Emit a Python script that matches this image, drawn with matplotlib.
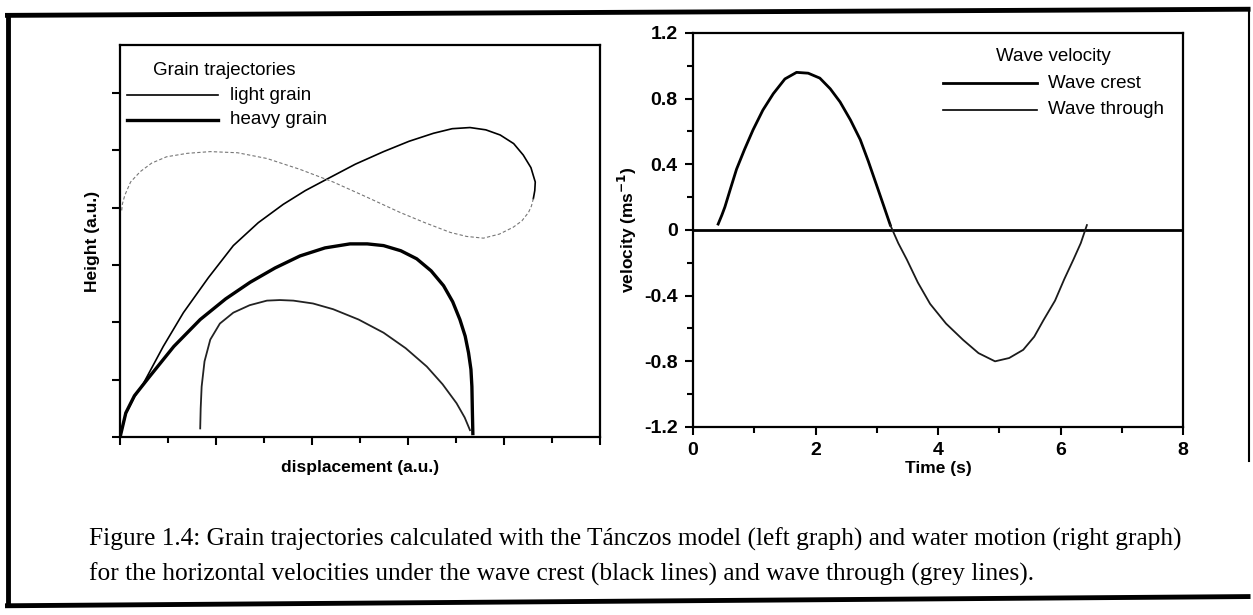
import numpy as np
import matplotlib
matplotlib.use('Agg')
import matplotlib.pyplot as plt
from matplotlib.lines import Line2D
from matplotlib.ticker import MultipleLocator, NullFormatter

plt.rcParams['font.family'] = ['Liberation Sans', 'DejaVu Sans']

# grain trajectories (arbitrary units), crest part then trough part
light_crest_x = [0.01, 0.12, 0.30, 0.49, 0.90, 1.32, 1.84, 2.36, 2.88, 3.40, 3.86, 4.31, 4.90,
                 5.49, 6.02, 6.53, 6.92, 7.29, 7.62, 7.92, 8.20, 8.40, 8.56, 8.65, 8.64, 8.61]
light_crest_y = [0.03, 0.40, 0.70, 0.94, 1.58, 2.17, 2.78, 3.34, 3.74, 4.06, 4.30, 4.50, 4.76,
                 4.98, 5.16, 5.30, 5.38, 5.40, 5.36, 5.27, 5.12, 4.92, 4.70, 4.45, 4.30, 4.16]
light_trough_x = [8.61, 8.57, 8.51, 8.37, 8.19, 7.90, 7.57, 7.22, 6.88, 6.35, 5.83, 5.13, 4.44,
                  3.75, 3.06, 2.45, 1.88, 1.40, 0.97, 0.66, 0.42, 0.22, 0.10, 0.05, 0.03]
light_trough_y = [4.16, 4.03, 3.92, 3.77, 3.66, 3.54, 3.47, 3.50, 3.57, 3.74, 3.92, 4.19, 4.45,
                  4.67, 4.86, 4.96, 4.98, 4.95, 4.89, 4.78, 4.63, 4.45, 4.22, 4.07, 3.92]

heavy_crest_x = [0.01, 0.12, 0.30, 0.62, 1.12, 1.67, 2.20, 2.71, 3.23, 3.75, 4.27, 4.79, 5.15,
                 5.49, 5.85, 6.18, 6.48, 6.74, 6.93, 7.08, 7.19, 7.26, 7.31, 7.33, 7.34, 7.35]
heavy_crest_y = [0.03, 0.42, 0.72, 1.06, 1.58, 2.05, 2.41, 2.70, 2.95, 3.16, 3.30, 3.37, 3.37,
                 3.34, 3.25, 3.11, 2.90, 2.64, 2.36, 2.05, 1.76, 1.47, 1.18, 0.88, 0.45, 0.06]
heavy_trough_x = [7.29, 7.18, 7.01, 6.72, 6.39, 5.95, 5.49, 4.97, 4.44, 4.02, 3.61, 3.33, 3.06,
                  2.70, 2.36, 2.08, 1.88, 1.76, 1.70, 1.68, 1.67]
heavy_trough_y = [0.12, 0.34, 0.59, 0.92, 1.23, 1.55, 1.82, 2.05, 2.23, 2.33, 2.38, 2.39, 2.38,
                  2.30, 2.17, 1.98, 1.70, 1.32, 0.88, 0.50, 0.15]

# horizontal water velocity (m/s) against time (s)
t_crest = [0.41, 0.47, 0.52, 0.61, 0.71, 0.84, 0.98, 1.14, 1.31, 1.50, 1.69, 1.88, 2.07,
           2.24, 2.40, 2.57, 2.73, 2.86, 2.99, 3.11, 3.22]
v_crest = [0.036, 0.09, 0.14, 0.25, 0.37, 0.49, 0.61, 0.73, 0.83, 0.92, 0.96, 0.955, 0.925,
           0.86, 0.78, 0.67, 0.55, 0.42, 0.28, 0.15, 0.03]
t_trough = [3.22, 3.35, 3.49, 3.67, 3.87, 4.13, 4.41, 4.66, 4.93, 5.16, 5.39, 5.57, 5.72,
            5.91, 6.06, 6.21, 6.33, 6.43]
v_trough = [0.03, -0.08, -0.18, -0.32, -0.45, -0.57, -0.67, -0.75, -0.80, -0.78, -0.73,
            -0.65, -0.55, -0.43, -0.30, -0.18, -0.08, 0.03]

fig = plt.figure(figsize=(12.53, 6.15), dpi=100)

# left graph
ax1 = fig.add_axes([0.0958, 0.2894, 0.3831, 0.6374])
ax1.plot(light_crest_x, light_crest_y, c='black', lw=1.2)
ax1.plot(light_trough_x, light_trough_y, c='#777777', lw=0.8, ls=(0, (3, 2)))
ax1.plot(heavy_crest_x, heavy_crest_y, c='black', lw=2.4)
ax1.plot(heavy_trough_x, heavy_trough_y, c='#222222', lw=1.3)
ax1.set_xlim(0, 10)
ax1.set_ylim(0, 6.84)
ax1.xaxis.set_major_locator(MultipleLocator(2))
ax1.xaxis.set_minor_locator(MultipleLocator(1))
ax1.yaxis.set_major_locator(MultipleLocator(1))
ax1.xaxis.set_major_formatter(NullFormatter())
ax1.yaxis.set_major_formatter(NullFormatter())
ax1.tick_params(which='major', direction='out', length=6, width=1.5)
ax1.tick_params(which='minor', direction='out', length=4, width=1.5)
for s in ax1.spines.values():
    s.set_linewidth(1.6)
ax1.set_xlabel('displacement (a.u.)', fontsize=12.5, fontweight='bold', labelpad=7)
ax1.set_ylabel('Height (a.u.)', fontsize=12.5, fontweight='bold', labelpad=5)

ax1.text(0.069, 0.936, 'Grain trajectories', transform=ax1.transAxes,
         fontsize=13.5, va='center')
ax1.plot([0.015, 0.204], [0.872, 0.872], transform=ax1.transAxes, c='black', lw=1.2)
ax1.plot([0.015, 0.204], [0.809, 0.809], transform=ax1.transAxes, c='black', lw=2.4)
ax1.text(0.229, 0.872, 'light grain', transform=ax1.transAxes, fontsize=13.5, va='center')
ax1.text(0.229, 0.809, 'heavy grain', transform=ax1.transAxes, fontsize=13.5, va='center')

# right graph
ax2 = fig.add_axes([0.5531, 0.3057, 0.3911, 0.6407])
ax2.axhline(0, c='black', lw=2)
ax2.plot(t_crest, v_crest, c='black', lw=2)
ax2.plot(t_trough, v_trough, c='#1a1a1a', lw=1.3)
ax2.set_xlim(0, 8)
ax2.set_ylim(-1.2, 1.2)
ax2.xaxis.set_major_locator(MultipleLocator(2))
ax2.xaxis.set_minor_locator(MultipleLocator(1))
ax2.yaxis.set_minor_locator(MultipleLocator(0.2))
ax2.set_yticks([-1.2, -0.8, -0.4, 0, 0.4, 0.8, 1.2])
ax2.set_yticklabels(['-1.2', '-0.8', '-0.4', '0', '0.4', '0.8', '1.2'])
ax2.tick_params(which='major', direction='out', length=6, width=1.5,
                labelsize=14, pad=5)
ax2.tick_params(which='minor', direction='out', length=4, width=1.5)
for lab in ax2.get_xticklabels() + ax2.get_yticklabels():
    lab.set_fontweight('bold')
for s in ax2.spines.values():
    s.set_linewidth(1.6)
ax2.set_xlabel('Time (s)', fontsize=12.5, fontweight='bold', labelpad=1)
ax2.set_ylabel('velocity (ms$^{\\mathbf{-1}}$)', fontsize=12.5, fontweight='bold', labelpad=4)

ax2.text(0.735, 0.939, 'Wave velocity', transform=ax2.transAxes, fontsize=13.5,
         va='center', ha='center')
ax2.plot([0.51, 0.702], [0.873, 0.873], transform=ax2.transAxes, c='black', lw=2)
ax2.plot([0.51, 0.702], [0.805, 0.805], transform=ax2.transAxes, c='black', lw=1.2)
ax2.text(0.724, 0.873, 'Wave crest', transform=ax2.transAxes, fontsize=13.5, va='center')
ax2.text(0.724, 0.805, 'Wave through', transform=ax2.transAxes, fontsize=13.5, va='center')

# caption
cap_font = ['Liberation Serif', 'DejaVu Serif']
fig.text(0.071, 0.1236,
         'Figure 1.4: Grain trajectories calculated with the T\u00e1nczos model (left graph) '
         'and water motion (right graph)', fontsize=18.3, family=cap_font, va='center')
fig.text(0.071, 0.0667,
         'for the horizontal velocities under the wave crest (black lines) '
         'and wave through (grey lines).', fontsize=18.3, family=cap_font, va='center')

# outer frame
frame = dict(transform=fig.transFigure, c='black', lw=3.5, solid_capstyle='butt')
fig.add_artist(Line2D([0.004, 0.998], [0.975, 0.985], **frame))
fig.add_artist(Line2D([0.006, 0.006], [0.975, 0.018], **frame))
fig.add_artist(Line2D([0.004, 0.998], [0.015, 0.030], **frame))
fig.add_artist(Line2D([0.997, 0.997], [0.985, 0.25], c='black', lw=1.5,
                      transform=fig.transFigure))

fig.savefig('out.png', dpi=100)
